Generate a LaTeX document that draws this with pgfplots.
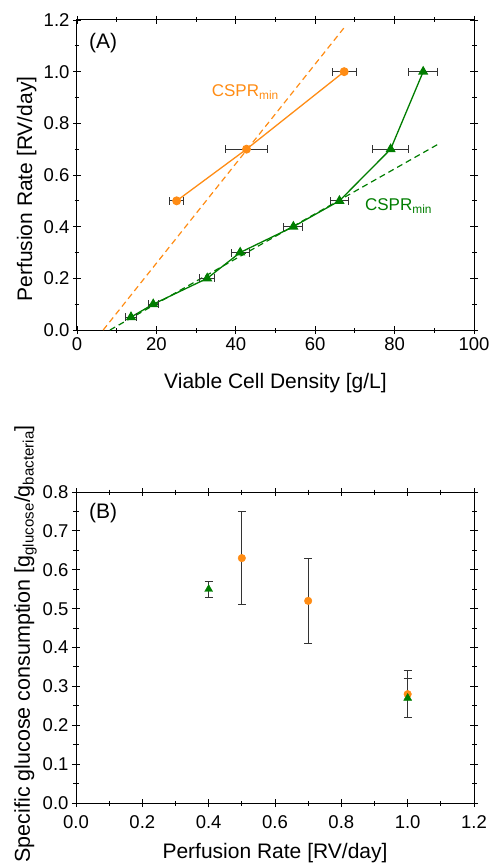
\documentclass[border=0pt]{standalone}
\usepackage{pgfplots}
\pgfplotsset{compat=1.18}
\usepackage{fontspec}
\setmainfont{Liberation Sans}
\definecolor{cor}{RGB}{255,140,20}
\definecolor{cgr}{RGB}{0,125,0}
\newcommand{\lblfont}{\fontsize{21}{24}\selectfont}
\newcommand{\tckfont}{\fontsize{18.5}{20}\selectfont}
\pgfplotsset{
  common/.style={
    scale only axis,
    anchor=north west,
    axis line style={black, line width=1pt},
    tick align=center,
    major tick length=8pt,
    minor tick length=5pt,
    every tick/.style={black, line width=0.9pt},
    tick label style={font=\tckfont},
    /pgf/number format/assume math mode=true,
    xtick pos=both, ytick pos=both,
    xticklabel pos=lower, yticklabel pos=left,
    minor x tick num=1, minor y tick num=1,
    clip=false,
  },
}
\begin{document}
\begin{tikzpicture}
\useasboundingbox (0,0) rectangle (490pt,-864pt);
% ---------------- (A)
\begin{axis}[common,
  at={(77pt,-20pt)}, width=397pt, height=310pt,
  xmin=0, xmax=100, ymin=0, ymax=1.2,
  xtick={0,20,40,60,80,100},
  ytick={0,0.2,0.4,0.6,0.8,1.0,1.2},
  yticklabel style={/pgf/number format/.cd, fixed, fixed zerofill, precision=1},
  xlabel={Viable Cell Density [g/L]},
  ylabel={Perfusion Rate [RV/day]},
  every axis x label/.style={at={(axis description cs:0.5,-0.19)}, anchor=base, font=\lblfont},
  every axis y label/.style={at={(axis description cs:-0.113,0.455)}, rotate=90, anchor=base, font=\lblfont},
]
\addplot[cor, line width=1.2pt, dash pattern=on 6pt off 4pt] coordinates {(6.6,0) (67.8,1.18)};
\addplot[cgr, line width=1.2pt, dash pattern=on 6pt off 4pt] coordinates {(8.3,0) (91.4,0.723)};
\addplot[cor, line width=1.3pt, mark=*, mark size=3.8pt, mark options={solid, fill=cor, draw=cor},
  error bars/.cd, x dir=both, x explicit,
  error bar style={black!80, line width=0.9pt},
  error mark options={black!80, rotate=90, mark size=4pt, line width=0.9pt}]
  coordinates {
  (25.1,0.5) +- (1.8,0)
  (42.7,0.7) +- (5.2,0)
  (67.3,1.0) +- (3.0,0)
  };
\addplot[cgr, line width=1.3pt, mark=triangle*, mark size=4.6pt, mark options={solid, fill=cgr, draw=cgr},
  error bars/.cd, x dir=both, x explicit,
  error bar style={black!80, line width=0.9pt},
  error mark options={black!80, rotate=90, mark size=4pt, line width=0.9pt}]
  coordinates {
  (13.6,0.05) +- (1.4,0)
  (19.2,0.1) +- (1.2,0)
  (32.8,0.2) +- (1.9,0)
  (41.1,0.3) +- (2.3,0)
  (54.5,0.4) +- (2.4,0)
  (66.1,0.5) +- (2.3,0)
  (79.0,0.7) +- (4.6,0)
  (87.2,1.0) +- (3.6,0)
  };
\node[anchor=west, font=\lblfont, inner sep=0pt] at (axis cs:3.0,1.11) {(A)};
\node[anchor=center, font=\fontsize{17}{20}\selectfont, text=cor, inner sep=0pt] at (axis cs:42.4,0.92) {CSPR\textsubscript{min}};
\node[anchor=center, font=\fontsize{17}{20}\selectfont, text=cgr, inner sep=0pt] at (axis cs:81,0.48) {CSPR\textsubscript{min}};
\end{axis}
% ---------------- (B)
\begin{axis}[common,
  at={(76pt,-492pt)}, width=398pt, height=311pt,
  xmin=0, xmax=1.2, ymin=0, ymax=0.8,
  xtick={0,0.2,0.4,0.6,0.8,1.0,1.2},
  ytick={0,0.1,0.2,0.3,0.4,0.5,0.6,0.7,0.8},
  xticklabel style={yshift=-5pt, /pgf/number format/.cd, fixed, fixed zerofill, precision=1},
  yticklabel style={/pgf/number format/.cd, fixed, fixed zerofill, precision=1},
  xlabel={Perfusion Rate [RV/day]},
  ylabel={Specific glucose consumption [g\textsubscript{glucose}/g\textsubscript{bacteria}]},
  every axis x label/.style={at={(axis description cs:0.5,-0.18)}, anchor=base, font=\lblfont},
  every axis y label/.style={at={(axis description cs:-0.116,0.512)}, rotate=90, anchor=base, font=\fontsize{21.5}{24}\selectfont},
]
\addplot[only marks, cor, mark=*, mark size=3.8pt, mark options={fill=cor, draw=cor},
  error bars/.cd, y dir=both, y explicit,
  error bar style={black!80, line width=0.9pt},
  error mark options={black!80, rotate=90, mark size=4pt, line width=0.9pt}]
  coordinates {
  (0.5,0.63) +- (0,0.12)
  (0.7,0.52) +- (0,0.11)
  (1.0,0.28) +- (0,0.06)
  };
\addplot[only marks, cgr, mark=triangle*, mark size=4.6pt, mark options={fill=cgr, draw=cgr},
  error bars/.cd, y dir=both, y explicit,
  error bar style={black!80, line width=0.9pt},
  error mark options={black!80, rotate=90, mark size=4pt, line width=0.9pt}]
  coordinates {
  (0.4,0.55) +- (0,0.02)
  (1.0,0.27) +- (0,0.05)
  };
\node[anchor=west, font=\lblfont, inner sep=0pt] at (axis cs:0.039,0.745) {(B)};
\end{axis}
\end{tikzpicture}
\end{document}
